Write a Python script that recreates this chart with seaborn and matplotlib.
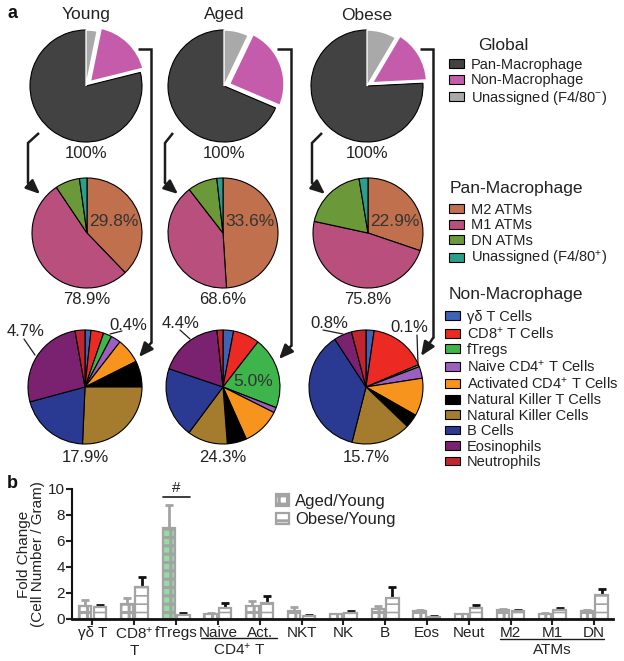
import numpy as np
import pandas as pd
import matplotlib
matplotlib.use("Agg")
import matplotlib.pyplot as plt
import seaborn as sns
from matplotlib.patches import Patch

# ---------------- data ----------------
groups = ["Young", "Aged", "Obese"]

global_labels = ["Pan-Macrophage", "Non-Macrophage", "Unassigned (F4/80$^{-}$)"]
global_colors = ["#424242", "#c45cab", "#a9a9a9"]
pan_mac_pct = [78.9, 68.6, 75.8]
non_mac_pct = [17.9, 24.3, 15.7]
unassigned_pct = [3.2, 7.1, 8.5]

mac_labels = ["M2 ATMs", "M1 ATMs", "DN ATMs", "Unassigned (F4/80$^{+}$)"]
mac_colors = ["#c0704d", "#b84f7c", "#6b9838", "#2e9e8c"]
m2_share = [37.8, 49.0, 30.2]
m1_share = [52.8, 40.5, 48.2]
dn_share = [7.2, 8.7, 19.0]
mac_unassigned_share = [2.2, 1.8, 2.6]
m2_of_total = [29.8, 33.6, 22.9]

nonmac_labels = ["γδ T Cells", "CD8$^{+}$ T Cells", "fTregs", "Naive CD4$^{+}$ T Cells",
                 "Activated CD4$^{+}$ T Cells", "Natural Killer T Cells",
                 "Natural Killer Cells", "B Cells", "Eosinophils", "Neutrophils"]
nonmac_colors = ["#3d63b5", "#ec2a24", "#3db54a", "#9b5fc0", "#f7941d",
                 "#000000", "#a57b2e", "#2a3a93", "#7a2170", "#c1262f"]
nonmac_young = [1.7, 3.6, 2.4, 2.8, 7.1, 7.4, 25.7, 20.1, 26.4, 2.8]
nonmac_aged = [3.0, 7.5, 20.4, 1.5, 10.9, 5.5, 11.4, 20.0, 18.1, 1.7]
nonmac_obese = [2.3, 16.3, 0.6, 3.3, 10.7, 3.9, 16.8, 36.8, 5.1, 4.1]
eos_of_total = [4.7, 4.4, 0.8]
treg_of_total = [0.4, 5.0, 0.1]

cells = ["γδ T", "CD8$^{+}$\nT", "fTregs", "Naive", "Act.", "NKT", "NK", "B",
         "Eos", "Neut", "M2", "M1", "DN"]
ratios = ["Aged/Young", "Obese/Young"]
aged_mean = [1.02, 1.18, 6.98, 0.41, 0.97, 0.64, 0.36, 0.77, 0.59, 0.38, 0.72, 0.41, 0.59]
aged_err = [0.46, 0.42, 1.79, 0.05, 0.38, 0.26, 0.03, 0.20, 0.07, 0.03, 0.05, 0.04, 0.07]
obese_mean = [0.92, 2.43, 0.33, 0.84, 1.23, 0.26, 0.46, 1.61, 0.15, 0.84, 0.59, 0.66, 1.87]
obese_err = [0.18, 0.79, 0.13, 0.39, 0.51, 0.07, 0.13, 0.82, 0.08, 0.26, 0.13, 0.16, 0.46]

# ---------------- style ----------------
sns.set_theme(style="ticks")
plt.rcParams["font.family"] = ["Liberation Sans", "DejaVu Sans"]
plt.rcParams["mathtext.fontset"] = "custom"
plt.rcParams["mathtext.rm"] = "Liberation Sans"
plt.rcParams["mathtext.it"] = "Liberation Sans:italic"
plt.rcParams["mathtext.bf"] = "Liberation Sans:bold"
plt.rcParams["hatch.linewidth"] = 2.2

W, H = 624, 661
fig = plt.figure(figsize=(W / 100, H / 100), dpi=100)
ax = fig.add_axes([0, 0, 1, 1])


def Y(y):
    return H - y


TXT = "#222222"
LINE = "#1c1c1c"

# ---------------- pies ----------------
row1 = dict(cx=[86, 224, 367], cy=86, r=56)
row2 = dict(cx=[87, 223, 368], cy=233, r=55)
row3 = dict(cx=[85, 223, 366], cy=387, r=57)

for i, g in enumerate(groups):
    # Global
    wedges, _ = ax.pie([pan_mac_pct[i], non_mac_pct[i], unassigned_pct[i]],
                       colors=global_colors, startangle=90, counterclock=True,
                       center=(row1["cx"][i], Y(row1["cy"])), radius=row1["r"],
                       explode=[0, 5, 0],
                       wedgeprops=dict(edgecolor="black", linewidth=0.8))
    wedges[1].set_edgecolor("white"); wedges[1].set_linewidth(2.0)
    wedges[2].set_edgecolor("white"); wedges[2].set_linewidth(1.0)
    ax.text(row1["cx"][i], Y(15), g, ha="center", va="center", fontsize=12.5, color=TXT)
    ax.text(row1["cx"][i], Y(153), "100%", ha="center", va="center", fontsize=12, color=TXT)

    # Pan-macrophage
    ax.pie([m2_share[i], m1_share[i], dn_share[i], mac_unassigned_share[i]],
           colors=mac_colors, startangle=90, counterclock=False,
           center=(row2["cx"][i], Y(row2["cy"])), radius=row2["r"],
           wedgeprops=dict(edgecolor="black", linewidth=0.8))
    ax.text(row2["cx"][i] + 27, Y(222), f"{m2_of_total[i]:.1f}%", ha="center",
            va="center", fontsize=12.5, color="#333333")
    ax.text(row2["cx"][i], Y(299), f"{pan_mac_pct[i]:.1f}%", ha="center",
            va="center", fontsize=12, color=TXT)

    # Non-macrophage
    vals = [nonmac_young, nonmac_aged, nonmac_obese][i]
    ax.pie(vals, colors=nonmac_colors, startangle=90, counterclock=False,
           center=(row3["cx"][i], Y(row3["cy"])), radius=row3["r"],
           wedgeprops=dict(edgecolor="black", linewidth=0.8))
    ax.text(row3["cx"][i], Y(458), f"{non_mac_pct[i]:.1f}%", ha="center",
            va="center", fontsize=12, color=TXT)

# small-slice annotations
ax.text(26, Y(331), f"{eos_of_total[0]:.1f}%", ha="center", va="center", fontsize=12, color=TXT)
ax.plot([24, 35], [Y(339), Y(355)], color=LINE, lw=0.9)
ax.text(128, Y(325), f"{treg_of_total[0]:.1f}%", ha="center", va="center", fontsize=12, color=TXT)
ax.plot([110, 122], [Y(334), Y(331)], color=LINE, lw=0.9)
ax.text(181, Y(323), f"{eos_of_total[1]:.1f}%", ha="center", va="center", fontsize=12, color=TXT)
ax.plot([180, 190], [Y(330), Y(339)], color=LINE, lw=0.9)
ax.text(253, Y(382), f"{treg_of_total[1]:.1f}%", ha="center", va="center", fontsize=12.5, color="#333333")
ax.text(329, Y(324), f"{eos_of_total[2]:.1f}%", ha="center", va="center", fontsize=12, color=TXT)
ax.plot([323, 343], [Y(330), Y(334)], color=LINE, lw=0.9)
ax.text(409, Y(327), f"{treg_of_total[2]:.1f}%", ha="center", va="center", fontsize=12, color=TXT)
ax.plot([417, 418], [Y(335), Y(364)], color=LINE, lw=0.9)

# connector arrows
paths = [
    [(39, 133), (28, 143), (28, 183), (40, 194)],
    [(138, 49), (151, 49), (151, 343), (139, 357)],
    [(173, 133), (165, 143), (165, 183), (178, 194)],
    [(277, 49), (291, 49), (291, 346), (279, 359)],
    [(322, 133), (312, 143), (312, 183), (325, 194)],
    [(420, 49), (433, 49), (433, 338), (421, 356)],
]
for p in paths:
    xs = [q[0] for q in p[:-1]]
    ys = [Y(q[1]) for q in p[:-1]]
    ax.plot(xs, ys, color=LINE, lw=1.8, solid_capstyle="butt", solid_joinstyle="miter")
    ax.annotate("", xy=(p[-1][0], Y(p[-1][1])), xytext=(p[-2][0], Y(p[-2][1])),
                arrowprops=dict(arrowstyle="-|>,head_length=0.7,head_width=0.3",
                                color=LINE, lw=1.8, shrinkA=0, shrinkB=0))

# legends for pies
def make_legend(labels, colors, x, ytop):
    handles = [Patch(facecolor=c, edgecolor="black", linewidth=0.8) for c in colors]
    leg = ax.legend(handles, labels, loc="upper left", bbox_to_anchor=(x, Y(ytop)),
                    bbox_transform=ax.transData, frameon=False, fontsize=10.5,
                    handlelength=1.05, handleheight=0.55, handletextpad=0.45,
                    labelspacing=0.1, borderpad=0, borderaxespad=0)
    for t in leg.get_texts():
        t.set_color(TXT)
    ax.add_artist(leg)
    return leg

ax.text(478, Y(45), "Global", ha="left", va="center", fontsize=12.5, color=TXT)
make_legend(global_labels, global_colors, 449, 58)
ax.text(450, Y(188), "Pan-Macrophage", ha="left", va="center", fontsize=12.5, color=TXT)
make_legend(mac_labels, mac_colors, 449, 203)
ax.text(449, Y(295), "Non-Macrophage", ha="left", va="center", fontsize=12.5, color=TXT)
make_legend(nonmac_labels, nonmac_colors, 445, 310)

ax.text(12, Y(14), "a", ha="center", va="center", fontsize=13, fontweight="bold", color="#111111")
ax.text(12, Y(484), "b", ha="center", va="center", fontsize=13, fontweight="bold", color="#111111")

# ---------------- bar chart ----------------
df = pd.DataFrame({
    "cell": cells * 2,
    "ratio": [ratios[0]] * len(cells) + [ratios[1]] * len(cells),
    "fold": aged_mean + obese_mean,
})
axb = fig.add_axes([72 / W, (H - 619) / H, 541 / W, 130 / H])
sns.barplot(data=df, x="cell", y="fold", hue="ratio", order=cells, hue_order=ratios,
            palette=["white", "white"], width=0.7, gap=0.15, errorbar=None,
            legend=False, ax=axb, linewidth=1.6, edgecolor="#a3a3a3")

GRAY = "#a3a3a3"
hatches = ["++", "--"]
for k, cont in enumerate(axb.containers):
    for j, bar in enumerate(cont):
        bar.set_hatch(hatches[k])
        bar.set_edgecolor(GRAY)
        bar.set_zorder(2)
        if k == 0 and cells[j] == "fTregs":
            bar.set_facecolor("#93dca3")
        if k == 1 and hasattr(bar, "set_hatch_linewidth"):
            bar.set_hatch_linewidth(1.2)

for cont, means, errs, ecol in zip(axb.containers, [aged_mean, obese_mean],
                                   [aged_err, obese_err], [GRAY, "#111111"]):
    xs = [b.get_x() + b.get_width() / 2 for b in cont]
    axb.errorbar(xs, means, yerr=[np.zeros(len(errs)), errs], fmt="none",
                 ecolor=ecol, elinewidth=2, capsize=3, capthick=2, zorder=1)

axb.set_xlim(-0.49, 12.45)
axb.set_ylim(0, 10)
axb.set_yticks([0, 2, 4, 6, 8, 10])
axb.set_xlabel("")
axb.set_ylabel("Fold Change\n(Cell Number / Gram)", fontsize=11, color=TXT, linespacing=1.0)
axb.yaxis.set_label_coords(-0.05, 0.5)
axb.tick_params(axis="y", length=4, width=1.5, labelsize=11, pad=1, colors=TXT)
axb.tick_params(axis="x", length=4, width=1.5, labelsize=11, pad=1, colors=TXT)
sns.despine(ax=axb)
axb.spines["left"].set_linewidth(1.5)
axb.spines["bottom"].set_linewidth(2)
axb.spines["left"].set_color("#111111")
axb.spines["bottom"].set_color("#111111")
axb.patch.set_alpha(0)

leg_handles = [Patch(facecolor="white", edgecolor=GRAY, hatch="++", linewidth=1.6),
               Patch(facecolor="white", edgecolor=GRAY, hatch="--", linewidth=1.6)]
lb = ax.legend(leg_handles, ratios, loc="upper left", bbox_to_anchor=(276, Y(494)),
               bbox_transform=ax.transData, frameon=False, fontsize=12,
               handlelength=0.8, handleheight=0.7, handletextpad=0.35,
               labelspacing=0.2, borderpad=0, borderaxespad=0)
for t in lb.get_texts():
    t.set_color(TXT)

# significance mark and group underlines
ax.plot([163, 190], [Y(497), Y(497)], color=LINE, lw=1.2)
ax.text(176, Y(488), "#", ha="center", va="center", fontsize=11, color=TXT)
ax.plot([201, 277], [Y(638), Y(638)], color=LINE, lw=1.0)
ax.text(239, Y(650), "CD4$^{+}$ T", ha="center", va="center", fontsize=11, color=TXT)
ax.plot([500, 604], [Y(639), Y(639)], color=LINE, lw=1.0)
ax.text(552, Y(650), "ATMs", ha="center", va="center", fontsize=11, color=TXT)

ax.set_xlim(0, W)
ax.set_ylim(0, H)
ax.set_aspect("equal", adjustable="box")
ax.axis("off")

fig.savefig("out.png", dpi=100)
